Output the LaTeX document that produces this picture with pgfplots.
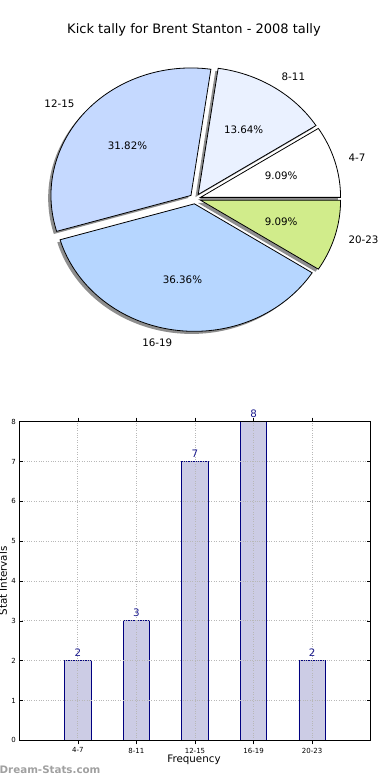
\documentclass[border=0pt]{standalone}
\usepackage{pgfplots}
\pgfplotsset{compat=1.18}
\usepackage{fontspec}
\setmainfont{DejaVu Sans}
\definecolor{wA}{HTML}{FFFFFF}
\definecolor{wB}{HTML}{EAF1FF}
\definecolor{wC}{HTML}{C5D9FF}
\definecolor{wD}{HTML}{B6D6FF}
\definecolor{wE}{HTML}{D1EC8B}
\definecolor{shad}{HTML}{8E8E8E}
\definecolor{barfill}{HTML}{CCCCE5}
\definecolor{baredge}{HTML}{000080}
\definecolor{numblue}{HTML}{1C1C8E}
\definecolor{wmark}{HTML}{A0A0A0}
\begin{document}%
\begin{tikzpicture}[x=1pt,y=1pt]
% pie data (counts per interval)
\def\va{2}\def\vb{3}\def\vc{7}\def\vd{8}\def\ve{2}
\pgfmathsetmacro\tot{\va+\vb+\vc+\vd+\ve}
\pgfmathsetmacro\aA{0}
\pgfmathsetmacro\aB{\aA+360*\va/\tot}
\pgfmathsetmacro\aC{\aB+360*\vb/\tot}
\pgfmathsetmacro\aD{\aC+360*\vc/\tot}
\pgfmathsetmacro\aE{\aD+360*\vd/\tot}
\pgfmathsetmacro\aF{\aE+360*\ve/\tot}
\def\cx{195.2}\def\cy{581.2}\def\rx{140}\def\ry{127.5}\def\ex{0.04}
\pgfmathsetmacro\mA{(\aA+\aB)/2}
\pgfmathsetmacro\mB{(\aB+\aC)/2}
\pgfmathsetmacro\mC{(\aC+\aD)/2}
\pgfmathsetmacro\mD{(\aD+\aE)/2}
\pgfmathsetmacro\mE{(\aE+\aF)/2}
\pgfmathsetmacro\xA{\cx+\ex*\rx*cos(\mA)}\pgfmathsetmacro\yA{\cy+\ex*\ry*sin(\mA)}
\pgfmathsetmacro\xB{\cx+\ex*\rx*cos(\mB)}\pgfmathsetmacro\yB{\cy+\ex*\ry*sin(\mB)}
\pgfmathsetmacro\xC{\cx+\ex*\rx*cos(\mC)}\pgfmathsetmacro\yC{\cy+\ex*\ry*sin(\mC)}
\pgfmathsetmacro\xD{\cx+\ex*\rx*cos(\mD)}\pgfmathsetmacro\yD{\cy+\ex*\ry*sin(\mD)}
\pgfmathsetmacro\xE{\cx+\ex*\rx*cos(\mE)}\pgfmathsetmacro\yE{\cy+\ex*\ry*sin(\mE)}
\def\sx{-2.8}\def\sy{-2.6}
\pgfmathsetmacro\sxA{\xA+\sx}\pgfmathsetmacro\syA{\yA+\sy}
\pgfmathsetmacro\sxB{\xB+\sx}\pgfmathsetmacro\syB{\yB+\sy}
\pgfmathsetmacro\sxC{\xC+\sx}\pgfmathsetmacro\syC{\yC+\sy}
\pgfmathsetmacro\sxD{\xD+\sx}\pgfmathsetmacro\syD{\yD+\sy}
\pgfmathsetmacro\sxE{\xE+\sx}\pgfmathsetmacro\syE{\yE+\sy}
% ---------------- pie ----------------
\begin{axis}[at={(0pt,0pt)},anchor=south west,scale only axis,width=390pt,height=780pt,
  xmin=0,xmax=390,ymin=0,ymax=780,hide axis,clip=false]
\addplot[draw=none,fill=shad,domain=\aA:\aB,samples=40,variable=\t] ({\sxA+\rx*cos(\t)},{\syA+\ry*sin(\t)}) -- (\sxA,\syA) -- cycle;
\addplot[draw=black,line width=0.8pt,fill=wA,domain=\aA:\aB,samples=40,variable=\t] ({\xA+\rx*cos(\t)},{\yA+\ry*sin(\t)}) -- (\xA,\yA) -- cycle;
\addplot[draw=none,fill=shad,domain=\aB:\aC,samples=40,variable=\t] ({\sxB+\rx*cos(\t)},{\syB+\ry*sin(\t)}) -- (\sxB,\syB) -- cycle;
\addplot[draw=black,line width=0.8pt,fill=wB,domain=\aB:\aC,samples=40,variable=\t] ({\xB+\rx*cos(\t)},{\yB+\ry*sin(\t)}) -- (\xB,\yB) -- cycle;
\addplot[draw=none,fill=shad,domain=\aC:\aD,samples=80,variable=\t] ({\sxC+\rx*cos(\t)},{\syC+\ry*sin(\t)}) -- (\sxC,\syC) -- cycle;
\addplot[draw=black,line width=0.8pt,fill=wC,domain=\aC:\aD,samples=80,variable=\t] ({\xC+\rx*cos(\t)},{\yC+\ry*sin(\t)}) -- (\xC,\yC) -- cycle;
\addplot[draw=none,fill=shad,domain=\aD:\aE,samples=80,variable=\t] ({\sxD+\rx*cos(\t)},{\syD+\ry*sin(\t)}) -- (\sxD,\syD) -- cycle;
\addplot[draw=black,line width=0.8pt,fill=wD,domain=\aD:\aE,samples=80,variable=\t] ({\xD+\rx*cos(\t)},{\yD+\ry*sin(\t)}) -- (\xD,\yD) -- cycle;
\addplot[draw=none,fill=shad,domain=\aE:\aF,samples=40,variable=\t] ({\sxE+\rx*cos(\t)},{\syE+\ry*sin(\t)}) -- (\sxE,\syE) -- cycle;
\addplot[draw=black,line width=0.8pt,fill=wE,domain=\aE:\aF,samples=40,variable=\t] ({\xE+\rx*cos(\t)},{\yE+\ry*sin(\t)}) -- (\xE,\yE) -- cycle;
% category labels
\node[anchor=west,inner sep=0pt,font=\fontsize{10.3}{12}\selectfont] at ({\xA+1.1*\rx*cos(\mA)},{\yA+1.1*\ry*sin(\mA)}) {4-7};
\node[anchor=west,inner sep=0pt,font=\fontsize{10.3}{12}\selectfont] at ({\xB+1.1*\rx*cos(\mB)},{\yB+1.1*\ry*sin(\mB)}) {8-11};
\node[anchor=east,inner sep=0pt,font=\fontsize{10.3}{12}\selectfont] at ({\xC+1.1*\rx*cos(\mC)},{\yC+1.1*\ry*sin(\mC)}) {12-15};
\node[anchor=east,inner sep=0pt,font=\fontsize{10.3}{12}\selectfont] at ({\xD+1.1*\rx*cos(\mD)},{\yD+1.1*\ry*sin(\mD)}) {16-19};
\node[anchor=west,inner sep=0pt,font=\fontsize{10.3}{12}\selectfont] at ({\xE+1.1*\rx*cos(\mE)},{\yE+1.1*\ry*sin(\mE)}) {20-23};
% percentages
\node[font=\fontsize{10.3}{12}\selectfont] at ({\xA+0.6*\rx*cos(\mA)},{\yA+0.6*\ry*sin(\mA)}) {9.09\%};
\node[font=\fontsize{10.3}{12}\selectfont] at ({\xB+0.6*\rx*cos(\mB)},{\yB+0.6*\ry*sin(\mB)}) {13.64\%};
\node[font=\fontsize{10.3}{12}\selectfont] at ({\xC+0.6*\rx*cos(\mC)},{\yC+0.6*\ry*sin(\mC)}) {31.82\%};
\node[font=\fontsize{10.3}{12}\selectfont] at ({\xD+0.6*\rx*cos(\mD)},{\yD+0.6*\ry*sin(\mD)}) {36.36\%};
\node[font=\fontsize{10.3}{12}\selectfont] at ({\xE+0.6*\rx*cos(\mE)},{\yE+0.6*\ry*sin(\mE)}) {9.09\%};
\node[font=\fontsize{13}{15}\selectfont] at (194,750) {Kick tally for Brent Stanton - 2008 tally};
\end{axis}
% ---------------- bars ----------------
\begin{axis}[at={(19.3pt,39.7pt)},anchor=south west,scale only axis,width=351.4pt,height=318.6pt,
  xmin=-1,xmax=5,ymin=0,ymax=8,
  xtick={0,1,2,3,4},xticklabels={4-7,8-11,12-15,16-19,20-23},
  ytick={0,1,2,3,4,5,6,7,8},
  /pgf/number format/assume math mode=true,
  ticklabel style={font=\fontsize{7}{8}\selectfont},
  tick align=inside, major tick length=4pt,
  tick style={black,line width=0.5pt},
  grid=major, major grid style={dotted,line width=0.8pt,black!28},
  axis on top, axis line style={line width=0.8pt},
  clip=false,
  ybar, bar width=26.4pt,
  nodes near coords,
  nodes near coords style={font=\fontsize{10.3}{12}\selectfont,text=numblue,anchor=south,inner sep=3.5pt},
]
\addplot[draw=baredge,fill=barfill,line width=0.7pt] coordinates {(0,2) (1,3) (2,7) (3,8) (4,2)};
\end{axis}
\node[font=\fontsize{10.3}{12}\selectfont] at (194,20) {Frequency};
\node[font=\fontsize{10.3}{12}\selectfont,rotate=90] at (3,199) {Stat Intervals};
\node[font=\bfseries\fontsize{10.3}{12}\selectfont,text=wmark,anchor=west,inner sep=0pt] at (-0.5,10) {Dream-Stats.com};
\pgfresetboundingbox
\path[use as bounding box] (0,0) rectangle (390,780);
\end{tikzpicture}%
\end{document}
